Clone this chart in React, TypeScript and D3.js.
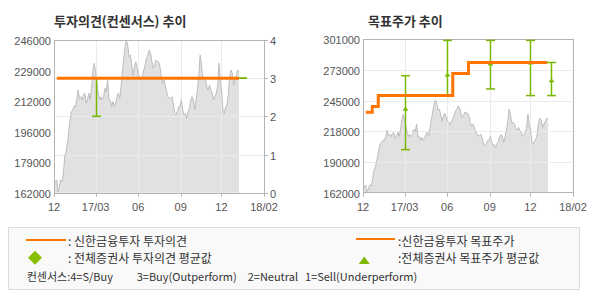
import React from "react";
import * as d3 from "d3";

// ---- data ----
const xTickLabels = ["12", "17/03", "06", "09", "12", "18/02"];
const xTickDates = ["2016-12-01", "2017-03-01", "2017-06-01", "2017-09-01", "2017-11-28", "2018-02-28"];

const priceStart = "2016-12-01";
const priceEnd = "2018-01-05";
const prices = [
  169000, 167500, 169000, 162500, 165300, 169000, 168000, 172600, 181800, 184600,
  189100, 195600, 202000, 206600, 207500, 209700, 209300, 213000, 218500, 213900,
  214800, 213000, 215700, 216700, 211200, 213000, 216700, 213000, 219400, 228600,
  233200, 228600, 222200, 216700, 213000, 214800, 213000, 214800, 219400, 217600,
  224000, 213000, 213000, 209300, 212100, 209300, 211200, 214800, 216700, 213900,
  220300, 228600, 235000, 242300, 246000, 243200, 236800, 237700, 232200, 226700,
  231300, 234100, 230400, 226700, 225800, 224000, 226700, 229500, 232200, 235900,
  237700, 240500, 238700, 234100, 230400, 232200, 235000, 234100, 234100, 231300,
  225800, 222200, 224000, 221200, 217600, 214800, 213900, 213900, 214800, 211200,
  205600, 204700, 206600, 209300, 209300, 213000, 207500, 204700, 205600, 202900,
  206600, 208400, 213000, 214800, 213000, 207500, 213000, 218500, 226700, 237700,
  232200, 224900, 225800, 224000, 220300, 218500, 221200, 218500, 216700, 213000,
  214800, 216700, 220300, 233200, 223100, 218500, 207500, 205600, 209300, 210300,
  215700, 225800, 229500, 227700, 221200, 224000, 226700, 229500, 228600,
];

const opinionDates = ["2016-12-07", "2018-01-05"];
const opinionValues = [3, 3];

const targetDates = ["2016-12-07", "2016-12-21", "2017-01-03", "2017-06-13", "2017-07-17", "2018-01-03"];
const targetValues = [235000, 240000, 250000, 270000, 280000, 280000];

const consensusDates = ["2017-03-01", "2017-06-01", "2017-09-01", "2017-11-28", "2018-01-11"];
const opinionMax = [3, 3, 3, 3, 3];
const opinionMin = [2, 3, 3, 3, 3];
const opinionMean = [3, 3, 3, 3, 3];
const targetMax = [268000, 300000, 300000, 300000, 280000];
const targetMin = [201000, 250000, 256000, 250000, 250000];
const targetMean = [238000, 269000, 279000, 280000, 264000];

const leftPriceTicks = ["162000", "179000", "196000", "212000", "229000", "246000"];
const opinionTicks = [0, 1, 2, 3, 4];
const rightPriceTicks = ["162000", "190000", "218000", "245000", "273000", "301000"];

const leftTitle = "투자의견(컨센서스) 추이";
const rightTitle = "목표주가 추이";

// ---- styles ----
const ORANGE = "#ff7500";
const GREEN = "#79b800";
const AXIS = "#b4b4b4";
const GRID = "#ebebeb";
const LABEL = "#555";
const NUMFONT = "'Liberation Sans', Arial, sans-serif";
const KFONT = "'Noto Sans CJK KR', 'Noto Sans', sans-serif";

const parse = d3.timeParse("%Y-%m-%d");

const pStart = parse(priceStart)!.getTime();
const pEnd = parse(priceEnd)!.getTime();
const priceData = prices.map((v, i) => ({
  date: new Date(pStart + ((pEnd - pStart) * i) / (prices.length - 1)),
  v,
}));

type Box = { x0: number; x1: number; y0: number; y1: number };

function Panel({
  box,
  priceDomain,
  priceLabels,
  title,
  titleX,
  mode,
}: {
  box: Box;
  priceDomain: [number, number];
  priceLabels: string[];
  title: string;
  titleX: number;
  mode: "opinion" | "target";
}) {
  const x = d3
    .scaleTime()
    .domain([parse(xTickDates[0])!, parse(xTickDates[xTickDates.length - 1])!])
    .range([box.x0, box.x1]);
  const yP = d3.scaleLinear().domain(priceDomain).range([box.y1, box.y0]);
  const yO = d3.scaleLinear().domain([0, 4]).range([box.y1, box.y0]);

  const area = d3
    .area<{ date: Date; v: number }>()
    .x((d) => x(d.date))
    .y0(box.y1)
    .y1((d) => yP(d.v));
  const line = d3
    .line<{ date: Date; v: number }>()
    .x((d) => x(d.date))
    .y((d) => yP(d.v));

  const valY = mode === "opinion" ? yO : yP;
  const stepData =
    mode === "opinion"
      ? opinionDates.map((d, i) => ({ date: parse(d)!, v: opinionValues[i] }))
      : targetDates.map((d, i) => ({ date: parse(d)!, v: targetValues[i] }));
  const step = d3
    .line<{ date: Date; v: number }>()
    .x((d) => x(d.date))
    .y((d) => valY(d.v))
    .curve(d3.curveStepAfter);

  const mx = mode === "opinion" ? opinionMax : targetMax;
  const mn = mode === "opinion" ? opinionMin : targetMin;
  const me = mode === "opinion" ? opinionMean : targetMean;

  const [lo, hi] = priceDomain;
  const n = priceLabels.length - 1;
  const labelYs = priceLabels.map((_, i) => yP(lo + ((hi - lo) * i) / n));

  const hGrid =
    mode === "opinion"
      ? opinionTicks.slice(1, -1).map((t) => yO(t))
      : labelYs.slice(1, -1);

  const tickXs = xTickDates.map((d) => x(parse(d)!));

  return (
    <g>
      <text x={titleX} y={25.5} fontFamily={KFONT} fontWeight="bold" fontSize={13} fill="#333">
        {title}
      </text>
      <path d={area(priceData) || ""} fill="#e1e1e1" />
      {hGrid.map((y, i) => (
        <line key={"h" + i} x1={box.x0} x2={box.x1} y1={Math.round(y) + 0.5} y2={Math.round(y) + 0.5} stroke={GRID} />
      ))}
      {tickXs.slice(1, -1).map((tx, i) => (
        <line key={"v" + i} x1={Math.round(tx) + 0.5} x2={Math.round(tx) + 0.5} y1={box.y0} y2={box.y1} stroke={GRID} />
      ))}
      <path d={line(priceData) || ""} fill="none" stroke="#bdbdbd" strokeWidth={1} />
      {/* frame */}
      <rect
        x={Math.round(box.x0) + 0.5}
        y={Math.round(box.y0) + 0.5}
        width={Math.round(box.x1 - box.x0)}
        height={Math.round(box.y1 - box.y0)}
        fill="none"
        stroke={AXIS}
      />
      {tickXs.map((tx, i) => (
        <g key={"xt" + i}>
          <line x1={Math.round(tx) + 0.5} x2={Math.round(tx) + 0.5} y1={box.y1} y2={box.y1 + 4} stroke={AXIS} />
          <text x={tx} y={211} textAnchor="middle" fontFamily={NUMFONT} fontSize={11} fill={LABEL}>
            {xTickLabels[i]}
          </text>
        </g>
      ))}
      {priceLabels.map((l, i) => (
        <text key={"yl" + i} x={box.x0 - 3} y={labelYs[i] + 5} textAnchor="end" fontFamily={NUMFONT} fontSize={11} fill={LABEL}>
          {l}
        </text>
      ))}
      {mode === "opinion" &&
        opinionTicks.map((t) => (
          <g key={"ot" + t}>
            <line x1={box.x1} x2={box.x1 + 4} y1={Math.round(yO(t)) + 0.5} y2={Math.round(yO(t)) + 0.5} stroke={AXIS} />
            <text x={box.x1 + 6} y={yO(t) + 5} fontFamily={NUMFONT} fontSize={11} fill={LABEL}>
              {t}
            </text>
          </g>
        ))}
      {/* consensus error bars */}
      {consensusDates.map((d, i) => {
        const cx = Math.round(x(parse(d)!)) + 0.5;
        const yt = valY(mx[i]);
        const yb = valY(mn[i]);
        const ym = valY(me[i]);
        return (
          <g key={"eb" + i} stroke={GREEN} strokeWidth={1.5}>
            <line x1={cx} x2={cx} y1={yt} y2={yb} />
            <line x1={cx - 4.5} x2={cx + 4.5} y1={yt} y2={yt} />
            <line x1={cx - 4.5} x2={cx + 4.5} y1={yb} y2={yb} />
            {mode === "target" && (
              <path d={`M${cx - 3},${ym + 2}L${cx},${ym - 2}L${cx + 3},${ym + 2}Z`} fill={GREEN} stroke="none" />
            )}
          </g>
        );
      })}
      <path d={step(stepData) || ""} fill="none" stroke={ORANGE} strokeWidth={3} />
    </g>
  );
}

export default function App() {
  return (
    <svg width={590} height={300} style={{ position: "absolute", left: 0, top: 0, display: "block" }}>
      <rect x={0} y={0} width={590} height={300} fill="#fff" />
      <Panel
        box={{ x0: 54, x1: 264, y0: 40, y1: 192.7 }}
        priceDomain={[162000, 246000]}
        priceLabels={leftPriceTicks}
        title={leftTitle}
        titleX={54}
        mode="opinion"
      />
      <Panel
        box={{ x0: 363, x1: 573, y0: 39.3, y1: 192.7 }}
        priceDomain={[162000, 301000]}
        priceLabels={rightPriceTicks}
        title={rightTitle}
        titleX={368}
        mode="target"
      />
      {/* legend */}
      <rect x={8.5} y={227.5} width={571} height={62} fill="#f9f9f9" stroke="#dcdcdc" />
      <line x1={26} x2={66} y1={240} y2={240} stroke={ORANGE} strokeWidth={2} />
      <text x={68} y={245.5} fontFamily={KFONT} fontSize={12} fill="#333">: 신한금융투자 투자의견</text>
      <path d="M35,250.7L42,257.7L35,264.7L28,257.7Z" fill="#86c000" />
      <text x={68} y={263} fontFamily={KFONT} fontSize={12} fill="#333">: 전체증권사 투자의견 평균값</text>
      <line x1={356} x2={395} y1={239} y2={239} stroke={ORANGE} strokeWidth={2} />
      <text x={398} y={245.5} fontFamily={KFONT} fontSize={12} fill="#333">:신한금융투자 목표주가</text>
      <path d="M358.8,264L364.3,256.5L369.8,264Z" fill="#7cb800" />
      <text x={398} y={263} fontFamily={KFONT} fontSize={12} fill="#333">:전체증권사 목표주가 평균값</text>
      <g fontFamily={KFONT} fontSize={11} fill="#333">
        <text x={26.7} y={281}>컨센서스:4=S/Buy</text>
        <text x={136.7} y={281}>3=Buy(Outperform)</text>
        <text x={247.7} y={281}>2=Neutral</text>
        <text x={305} y={281}>1=Sell(Underperform)</text>
      </g>
    </svg>
  );
}
